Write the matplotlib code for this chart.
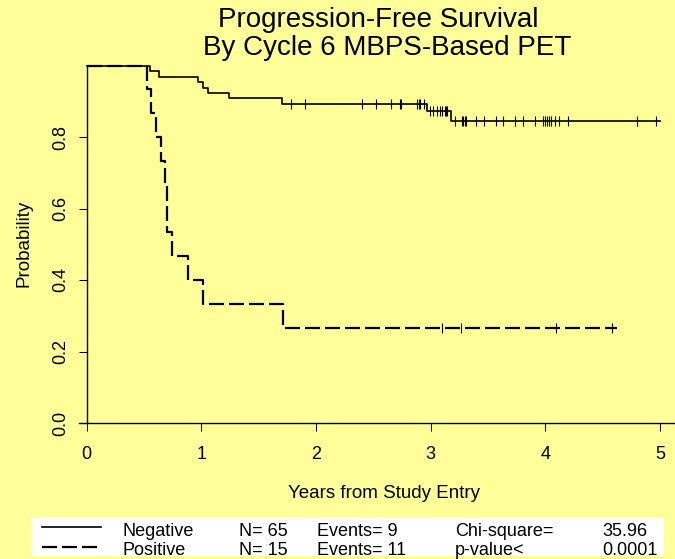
import numpy as np
import matplotlib.pyplot as plt
from matplotlib.patches import Rectangle
from matplotlib.lines import Line2D

plt.rcParams["font.family"] = ["Liberation Sans", "DejaVu Sans"]

W, H = 675, 559
bg = "#ffff99"

# --- Kaplan-Meier data ---
neg_event_t = [0.55, 0.63, 0.97, 1.01, 1.06, 1.24, 1.70, 2.97, 3.18]
neg_surv = [0.985, 0.969, 0.954, 0.938, 0.923, 0.908, 0.892, 0.872, 0.844]
neg_cens_t = [1.78, 1.90, 2.40, 2.52, 2.65, 2.73, 2.74, 2.88, 2.90, 2.91, 2.94,
              2.99, 3.02, 3.05, 3.08, 3.10, 3.12, 3.13, 3.14,
              3.21, 3.27, 3.28, 3.30, 3.31, 3.39, 3.46, 3.57, 3.63, 3.73, 3.80,
              3.91, 3.98, 4.00, 4.01, 4.03, 4.05, 4.08, 4.12, 4.20, 4.80, 4.96]
neg_end = 5.0

pos_event_t = [0.53, 0.56, 0.60, 0.65, 0.68, 0.70, 0.74, 0.88, 1.01, 1.71]
pos_surv = [0.933, 0.867, 0.800, 0.733, 0.667, 0.533, 0.467, 0.400, 0.333, 0.267]
pos_cens_t = [3.10, 3.26, 4.09, 4.58]
pos_end = 4.62

legend_rows = [
    ["Negative", "N= 65", "Events= 9", "Chi-square=", "35.96"],
    ["Positive", "N= 15", "Events= 11", "p-value<", "0.0001"],
]


def fx(px):
    return px / W


def fy(py):
    return 1 - py / H


def surv_at(t, ev, s):
    idx = np.searchsorted(ev, t, side="right")
    return ([1.0] + s)[idx]


fig = plt.figure(figsize=(6.75, 5.59), dpi=100, facecolor=bg)
ax = fig.add_axes([fx(79), fy(423), fx(675) - fx(79), (423 - 65.5) / H])
ax.set_facecolor(bg)

solid_lw = 1.2
dash_lw = 1.6
dash_style = (0, (6.75, 2.25))

# negative curve
ax.step([0] + neg_event_t + [neg_end], [1.0] + neg_surv + [neg_surv[-1]],
        where="post", color="black", lw=solid_lw, clip_on=False)
ax.plot(neg_cens_t, [surv_at(t, neg_event_t, neg_surv) for t in neg_cens_t],
        ls="none", marker="|", ms=7, mew=0.8, color="black", clip_on=False)

# positive curve
ax.step([0] + pos_event_t + [pos_end], [1.0] + pos_surv + [pos_surv[-1]],
        where="post", color="black", lw=dash_lw, ls=dash_style, clip_on=False)
ax.plot(pos_cens_t, [surv_at(t, pos_event_t, pos_surv) for t in pos_cens_t],
        ls="none", marker="|", ms=7, mew=0.8, color="black", clip_on=False)

ax.set_xlim(-0.067, 5.129)
ax.set_ylim(0, 1.0)
ax.spines["top"].set_visible(False)
ax.spines["right"].set_visible(False)
ax.spines["left"].set_position(("data", 0))
ax.spines["left"].set_bounds(0, 1.0)
for s in ["left", "bottom"]:
    ax.spines[s].set_linewidth(1.0)

ax.set_xticks(range(6))
ax.set_yticks([0.0, 0.2, 0.4, 0.6, 0.8])
ax.set_yticklabels(["0.0", "0.2", "0.4", "0.6", "0.8"])
ax.tick_params(axis="both", direction="out", length=5.8, width=0.75, labelsize=13)
ax.tick_params(axis="x", pad=11)
ax.tick_params(axis="y", pad=7)
plt.setp(ax.get_yticklabels(), rotation=90, va="center")

# titles and axis labels
fig.text(fx(378.6), fy(27), "Progression-Free Survival", ha="center",
         va="baseline", fontsize=20)
fig.text(fx(386.7), fy(55), "By Cycle 6 MBPS-Based PET", ha="center",
         va="baseline", fontsize=20)
fig.text(fx(384), fy(493), "Years from Study Entry", ha="center", va="center",
         fontsize=13.5)
fig.text(fx(24), fy(243), "Probability", ha="center", va="center",
         rotation=90, fontsize=13.5)

# --- legend block ---
fig.patches.append(Rectangle((fx(31), fy(556)), fx(664) - fx(31), (556 - 517) / H,
                             transform=fig.transFigure, facecolor="white",
                             edgecolor="none"))
fig.add_artist(Line2D([fx(42), fx(101)], [fy(527), fy(527)], color="black",
                      lw=solid_lw))
fig.add_artist(Line2D([fx(42), fx(101)], [fy(546.5), fy(546.5)], color="black",
                      lw=dash_lw, ls=dash_style))
col_x = [123, 239, 317, 455, 602]
row_y = [536, 555]
for row, yy in zip(legend_rows, row_y):
    for txt, xx in zip(row, col_x):
        fig.text(fx(xx), fy(yy), txt, ha="left", va="baseline", fontsize=13)

fig.savefig("out.png", dpi=100, facecolor=bg)
